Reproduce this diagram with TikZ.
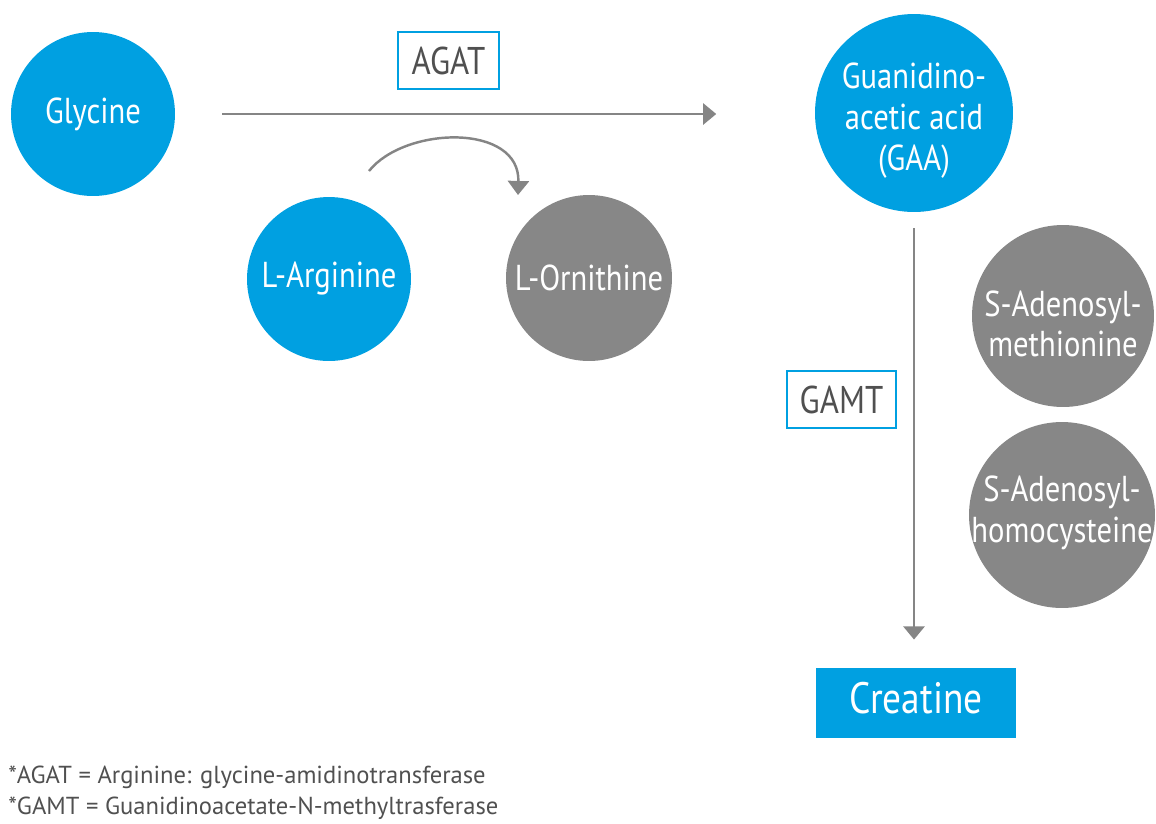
\documentclass[tikz,border=0pt]{standalone}
\usepackage{fontspec}
\setmainfont{PT Sans}
\newfontfamily\cond[FakeStretch=0.85]{PT Sans}
\usetikzlibrary{arrows.meta}
\definecolor{cblue}{HTML}{00A0E1}
\definecolor{cgray}{HTML}{878787}
\definecolor{agray}{HTML}{858585}
\definecolor{tgray}{HTML}{505050}
\tikzset{
  mettext/.style={inner sep=0pt, text=white, align=center,
    font=\cond\fontsize{20.5}{23.3}\selectfont},
  met/.style={circle, mettext},
  bluec/.style={met, fill=cblue},
  grayc/.style={met, fill=cgray},
  enz/.style={draw=cblue, line width=1.2pt, fill=white, text=tgray, inner sep=0pt,
    minimum height=1.14cm, font=\cond\fontsize{22}{26}\selectfont},
  cretext/.style={inner sep=0pt, text=white, font=\cond\fontsize{25}{28}\selectfont},
  arr/.style={draw=agray, line width=1.5pt, -{Triangle[width=12pt,length=7.5pt]}},
  foot/.style={anchor=west, inner sep=0pt, text=tgray, font=\fontsize{14}{17}\selectfont}
}
\begin{document}
\begin{tikzpicture}[x=0.02cm,y=-0.02cm]
\useasboundingbox (0,0) rectangle (1156,823);
\node[bluec, minimum size=3.28cm] (gly) at (93,114) {Glycine};
\node[bluec, minimum size=3.28cm] (arg) at (329,279) {L-Arginine};
\node[grayc, minimum size=3.32cm] (orn) at (589,278) {L-Ornithine};
\node[bluec, minimum size=3.96cm,
  label={[mettext, yshift=-4.5pt]center:Guanidino-\\acetic acid\\(GAA)}] (gaa) at (914,113) {};
\node[grayc, minimum size=3.64cm,
  label={[mettext, yshift=-4.5pt]center:S-Adenosyl-\\methionine}] (sam) at (1063,316) {};
\node[grayc, minimum size=3.72cm,
  label={[mettext, yshift=1pt]center:S-Adenosyl-\\homocysteine}] (sah) at (1062,515) {};
\node[fill=cblue, minimum width=4cm, minimum height=1.4cm, inner sep=0pt,
  label={[cretext, yshift=3pt]center:Creatine}] (cre) at (916,703) {};
\node[enz, minimum width=2.02cm] (agat) at (448.5,60.5) {AGAT};
\node[enz, minimum width=2.18cm] (gamt) at (841.5,399.5) {GAMT};
\draw[arr, shorten <=26.7pt, shorten >=56pt] (gly.east) -- (gly.east -| gaa.west);
\draw[arr, shorten <=9pt, shorten >=16pt] (gaa.south) -- (cre.north -| gaa.south);
\coordinate (cs) at (369,171);
\coordinate (ce) at (518,195);
\draw[arr, line width=1.4pt, -{Triangle[width=12pt,length=8pt]}] (cs) .. controls (405,126) and (520,123) .. (ce);
\node[foot] (f1) at (8,777) {*AGAT = Arginine: glycine-amidinotransferase};
\node[foot] (f2) at (8,808) {*GAMT = Guanidinoacetate-N-methyltrasferase};
\end{tikzpicture}
\end{document}
